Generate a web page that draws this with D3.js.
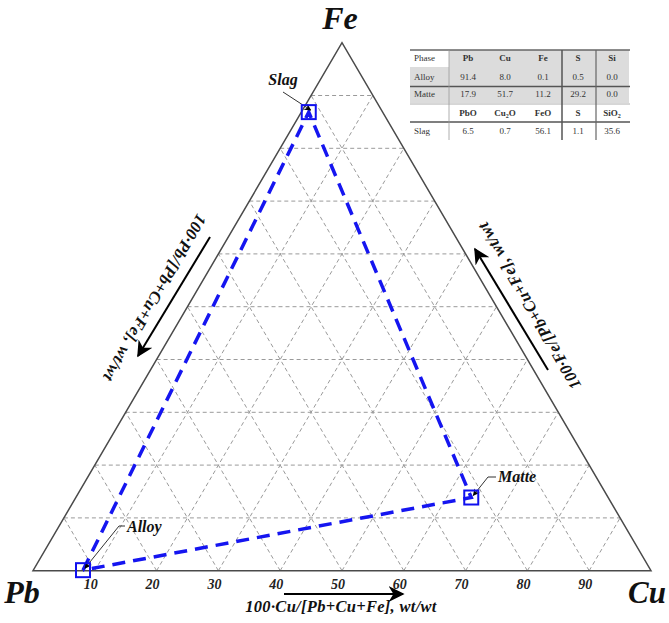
<!DOCTYPE html>
<html><head><meta charset="utf-8">
<script src="https://cdn.jsdelivr.net/npm/d3@7"></script>
<style>body{margin:0;background:#fff}svg{display:block}</style>
</head><body>
<script>
// ---- data ----
const pointNames = ["Alloy", "Matte", "Slag"];
const pointPb = [91.4, 17.9, 6.0];
const pointCu = [8.0, 51.7, 0.6];
const pointFe = [0.1, 11.2, 43.6];
const pathOrder = ["Alloy", "Slag", "Matte", "Alloy"];
const gridLevels = [10, 20, 30, 40, 50, 60, 70, 80, 90];
const tickLabels = ["10", "20", "30", "40", "50", "60", "70", "80", "90"];
const vertexLabels = ["Pb", "Cu", "Fe"];
const tableHeader = ["Phase", "Pb", "Cu", "Fe", "S", "Si"];
const tableAlloy = ["Alloy", "91.4", "8.0", "0.1", "0.5", "0.0"];
const tableMatte = ["Matte", "17.9", "51.7", "11.2", "29.2", "0.0"];
const tableOxide = ["", "PbO", "Cu|2|O", "FeO", "S", "SiO|2|"];
const tableSlag = ["Slag", "6.5", "0.7", "56.1", "1.1", "35.6"];

const W = 669, H = 623;
const svg = d3.select("body").append("svg").attr("width", W).attr("height", H);
const serif = "'Liberation Serif','DejaVu Serif',serif";

const triL = 33, triR = 651, triT = 42.7, triB = 570.7;
const xs = d3.scaleLinear().domain([0, 100]).range([triL, triR]);
const ys = d3.scaleLinear().domain([0, 100]).range([triB, triT]);
function P(pb, cu, fe) { const s = pb + cu + fe; const c = cu / s * 100, f = fe / s * 100; return [xs(c + f / 2), ys(f)]; }

const defs = svg.append("defs");
function marker(id, size) {
  defs.append("marker").attr("id", id).attr("viewBox", "0 0 10 10").attr("refX", 9).attr("refY", 5)
    .attr("markerWidth", size).attr("markerHeight", size).attr("orient", "auto").attr("markerUnits", "userSpaceOnUse")
    .append("path").attr("d", "M0,0 L10,5 L0,10 L3,5 Z").attr("fill", "#000");
}
marker("arr", 16);
marker("arrs", 7);

// grid
const g = svg.append("g").attr("stroke", "#9a9a9a").attr("stroke-width", 1).attr("stroke-dasharray", "4,3").attr("fill", "none");
gridLevels.forEach(v => {
  const r = 100 - v;
  g.append("line").attr("x1", P(r, 0, v)[0]).attr("y1", P(r, 0, v)[1]).attr("x2", P(0, r, v)[0]).attr("y2", P(0, r, v)[1]);
  g.append("line").attr("x1", P(r, v, 0)[0]).attr("y1", P(r, v, 0)[1]).attr("x2", P(0, v, r)[0]).attr("y2", P(0, v, r)[1]);
  g.append("line").attr("x1", P(v, r, 0)[0]).attr("y1", P(v, r, 0)[1]).attr("x2", P(v, 0, r)[0]).attr("y2", P(v, 0, r)[1]);
});

// triangle
const V = [P(100, 0, 0), P(0, 100, 0), P(0, 0, 100)];
svg.append("path").attr("d", "M" + V.map(p => p.join(",")).join("L") + "Z")
  .attr("fill", "none").attr("stroke", "#4a4a4a").attr("stroke-width", 1.5);

// tick labels
svg.append("g").selectAll("text").data(gridLevels).join("text")
  .attr("x", d => xs(d) - 4).attr("y", triB + 18).attr("text-anchor", "middle")
  .attr("font-family", serif).attr("font-style", "italic").attr("font-weight", "bold").attr("font-size", 14)
  .attr("fill", "#222").text((d, i) => tickLabels[i]);

// vertex labels
const vl = svg.append("g").attr("font-family", serif).attr("font-style", "italic").attr("font-weight", "bold").attr("font-size", 32).attr("fill", "#111");
vl.append("text").attr("x", 22).attr("y", 603).attr("text-anchor", "middle").text(vertexLabels[0]);
vl.append("text").attr("x", 666).attr("y", 603).attr("text-anchor", "end").attr("font-size", 31).text(vertexLabels[1]);
vl.append("text").attr("x", 340).attr("y", 29).attr("text-anchor", "middle").text(vertexLabels[2]);

// axis titles
const at = { "font-family": serif, "font-style": "italic", "font-weight": "bold", "font-size": 16.5, "fill": "#111", "letter-spacing": 0.3 };
function T(sel) { for (const k in at) sel.attr(k, at[k]); return sel; }
T(svg.append("text")).attr("x", 341).attr("y", 612).attr("text-anchor", "middle").text("100·Cu/[Pb+Cu+Fe], wt/wt");
svg.append("line").attr("x1", 284).attr("y1", 594).attr("x2", 403).attr("y2", 594).attr("stroke", "#000").attr("stroke-width", 2).attr("marker-end", "url(#arr)");
T(svg.append("text")).attr("transform", "translate(155,298) rotate(120)").attr("text-anchor", "middle").attr("dy", "0.35em").text("100·Pb/[Pb+Cu+Fe], wt/wt");
svg.append("line").attr("x1", 210).attr("y1", 237).attr("x2", 138).attr("y2", 356).attr("stroke", "#000").attr("stroke-width", 2).attr("marker-end", "url(#arr)");
T(svg.append("text")).attr("transform", "translate(529,306) rotate(-120)").attr("text-anchor", "middle").attr("dy", "0.35em").text("100·Fe/[Pb+Cu+Fe], wt/wt");
svg.append("line").attr("x1", 548).attr("y1", 370).attr("x2", 475).attr("y2", 249).attr("stroke", "#000").attr("stroke-width", 2).attr("marker-end", "url(#arr)");

// data path
const pts = pointNames.map((n, i) => P(pointPb[i], pointCu[i], pointFe[i]));
const byName = n => pts[pointNames.indexOf(n)];
svg.append("path").attr("d", d3.line()(pathOrder.map(byName)))
  .attr("fill", "none").attr("stroke", "#1515f0").attr("stroke-width", 3.5).attr("stroke-dasharray", "13,8");

// annotations
const ann = { Alloy: { pts: [[119, 526], [125, 526]], tx: 127, ty: 532 },
              Matte: { pts: [[488, 477], [496, 477]], tx: 498, ty: 482 },
              Slag: { pts: [[283, 92]], tx: 283, ty: 85, anchor: "middle" } };
pointNames.forEach((n, i) => {
  const a = ann[n], p = pts[i];
  const line = [...a.pts].reverse().concat([[p[0] + 2, p[1] - 2]]);
  svg.append("path").attr("d", d3.line()(line)).attr("fill", "none").attr("stroke", "#333").attr("stroke-width", 1).attr("marker-end", "url(#arrs)");
  svg.append("text").attr("x", a.tx).attr("y", a.ty).attr("text-anchor", a.anchor || "start")
    .attr("font-family", serif).attr("font-style", "italic").attr("font-weight", "bold").attr("font-size", 16).attr("fill", "#111").text(n);
});
svg.append("g").selectAll("rect").data(pts).join("rect")
  .attr("x", d => d[0] - 7).attr("y", d => d[1] - 7).attr("width", 14).attr("height", 14)
  .attr("fill", "none").attr("stroke", "#1010ee").attr("stroke-width", 2);

// table
const tb = svg.append("g");
const colX = [428, 468, 505, 543, 578, 612];
const rowY = [58, 77, 94, 113, 131];
tb.append("rect").attr("x", 449).attr("y", 50).attr("width", 180).attr("height", 17).attr("fill", "#dcdcdc");
tb.append("rect").attr("x", 410).attr("y", 67).attr("width", 219).attr("height", 19).attr("fill", "#dcdcdc");
tb.append("rect").attr("x", 410).attr("y", 87).attr("width", 219).attr("height", 16).attr("fill", "#dcdcdc");
const ln = (x1, y1, x2, y2, w, c) => tb.append("line").attr("x1", x1).attr("y1", y1).attr("x2", x2).attr("y2", y2).attr("stroke", c).attr("stroke-width", w);
ln(410, 50, 630, 50, 1.5, "#666");
ln(410, 86.5, 630, 86.5, 1.5, "#555");
ln(410, 104, 630, 104, 0.8, "#999");
ln(410, 122, 630, 122, 1.5, "#555");
ln(449, 50, 449, 140, 0.8, "#999");
ln(562, 50, 562, 140, 1.5, "#555");
ln(596, 50, 596, 140, 1.2, "#666");
const rows = [tableHeader, tableAlloy, tableMatte, tableOxide, tableSlag];
rows.forEach((r, ri) => {
  r.forEach((c, ci) => {
    const t = tb.append("text").attr("x", ci === 0 ? 414 : colX[ci]).attr("y", rowY[ri]).attr("dy", "0.35em")
      .attr("text-anchor", ci === 0 ? "start" : "middle").attr("font-family", serif).attr("font-size", 9)
      .attr("font-weight", (ri === 0 || ri === 3) && ci > 0 ? "bold" : "normal").attr("fill", "#333");
    const parts = c.split("|");
    parts.forEach((s, k) => {
      if (!s) return;
      const ts = t.append("tspan").text(s);
      if (k === 1) ts.attr("font-size", 6).attr("dy", "2");
      if (k === 2) ts.attr("dy", "-2");
    });
  });
});
</script>
</body></html>
